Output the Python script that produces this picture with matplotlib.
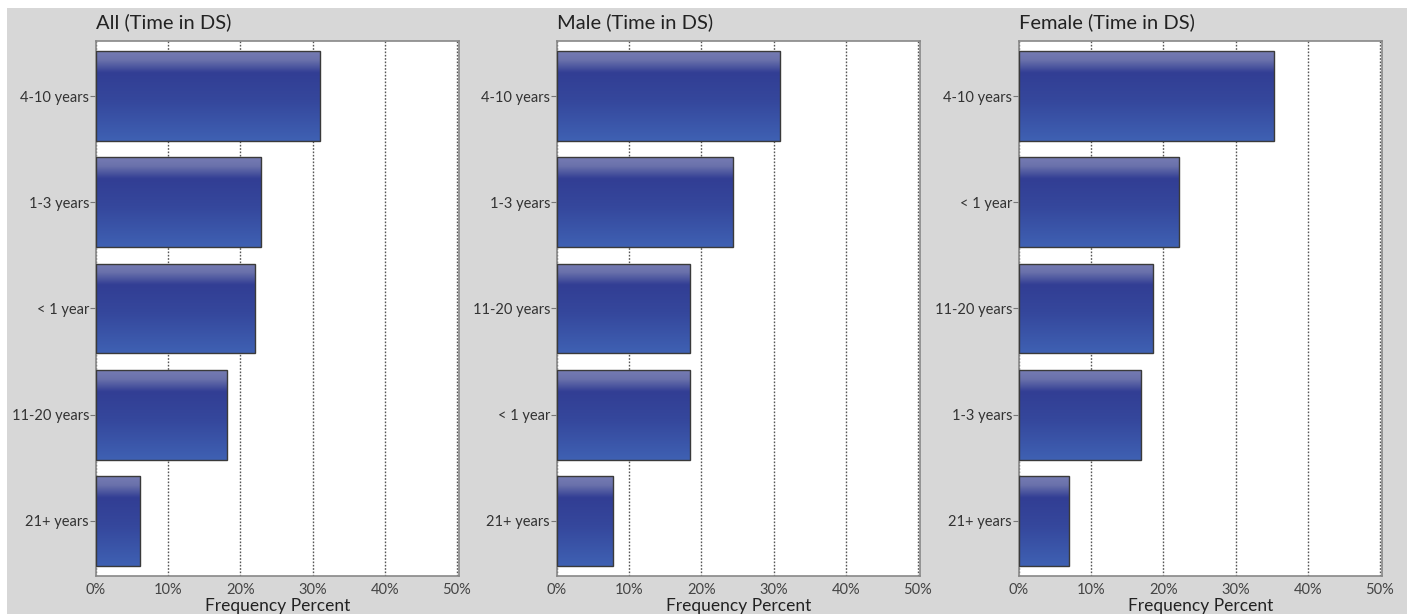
import numpy as np
import matplotlib
matplotlib.use('Agg')
import matplotlib.pyplot as plt
from matplotlib.colors import LinearSegmentedColormap
from matplotlib.patches import Rectangle

plt.rcParams['font.family'] = ['Lato', 'DejaVu Sans']

titles = ['All (Time in DS)', 'Male (Time in DS)', 'Female (Time in DS)']

all_labels = ['4-10 years', '1-3 years', '< 1 year', '11-20 years', '21+ years']
all_values = [31.0, 22.9, 22.0, 18.1, 6.1]

male_labels = ['4-10 years', '1-3 years', '11-20 years', '< 1 year', '21+ years']
male_values = [30.9, 24.4, 18.4, 18.4, 7.8]

female_labels = ['4-10 years', '< 1 year', '11-20 years', '1-3 years', '21+ years']
female_values = [35.3, 22.2, 18.5, 16.9, 6.9]

x_ticks = [0, 10, 20, 30, 40, 50]
x_ticklabels = ['0%', '10%', '20%', '30%', '40%', '50%']

panels = [(titles[0], all_labels, all_values),
          (titles[1], male_labels, male_values),
          (titles[2], female_labels, female_values)]

# glossy blue gradient, top -> bottom
grad_cmap = LinearSegmentedColormap.from_list(
    'gloss', [(0.0, '#767cb3'), (0.10, '#6a71ab'), (0.24, '#323e94'),
              (0.55, '#35479c'), (1.0, '#3f61b3')])
gradient = np.linspace(0, 1, 256).reshape(-1, 1)

fig = plt.figure(figsize=(14.07, 6.14), dpi=100, facecolor='white')
fig.patches.append(Rectangle((7 / 1407, 0), 1, 1 - 8 / 614,
                             transform=fig.transFigure, facecolor='#d7d7d7',
                             edgecolor='none', zorder=-10))

lefts = [96, 557, 1019]
for (title, labels, values), left in zip(panels, lefts):
    ax = fig.add_axes([left / 1407, 1 - 576 / 614, 363 / 1407, 535 / 614])
    ax.set_facecolor('white')
    y = np.arange(len(labels))
    bars = ax.barh(y, values, height=0.847, facecolor='none',
                   edgecolor='#3a3a3a', linewidth=1.0, zorder=3)
    for b in bars:
        x0, y0 = b.get_x(), b.get_y()
        w, h = b.get_width(), b.get_height()
        im = ax.imshow(gradient, cmap=grad_cmap, aspect='auto',
                       extent=[x0, x0 + w, y0 + h, y0], zorder=2,
                       interpolation='bicubic')
        im.set_clip_path(b)

    ax.set_xlim(0, 50.28)
    ax.set_ylim(4.52, -0.52)
    ax.set_yticks(y)
    ax.set_yticklabels(labels, fontsize=10.5, color='#333333')
    ax.set_xticks(x_ticks)
    ax.set_xticklabels(x_ticklabels, fontsize=10.5, color='#444444')
    ax.tick_params(axis='x', length=0, pad=5)
    ax.tick_params(axis='y', length=4, width=0.8, color='#777777', pad=1)
    ax.grid(axis='x', linestyle=(0, (1.2, 1.2)), color='#555555',
            linewidth=1.0, zorder=1)
    for s in ax.spines.values():
        s.set_color('#888888')
        s.set_linewidth(1.2)
    ax.set_xlabel('Frequency Percent', fontsize=12.5, color='#222222',
                  labelpad=0.5)
    ax.set_title(title, loc='left', fontsize=14.5, color='#222222', pad=9)

fig.savefig('out.png', dpi=100, facecolor=fig.get_facecolor())
